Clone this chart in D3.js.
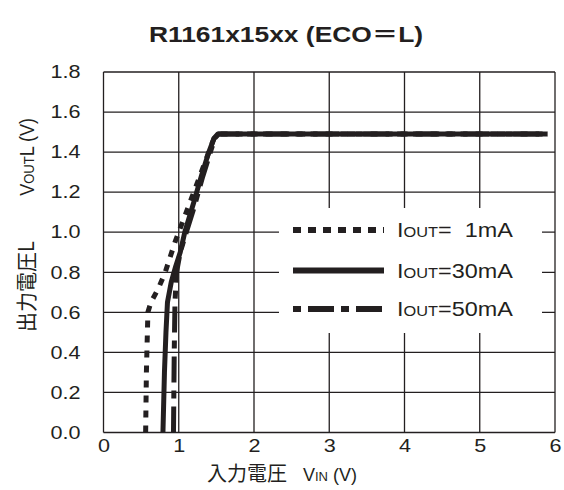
<!DOCTYPE html>
<html>
<head>
<meta charset="utf-8">
<script src="https://cdn.jsdelivr.net/npm/d3@7/dist/d3.min.js"></script>
<style>
  body { margin: 0; background: #fff; }
  svg { display: block; }
  text { font-family: "Liberation Sans", Arial, sans-serif; fill: #231f20; }
  .cjk { font-family: "Noto Sans CJK JP", sans-serif; }
</style>
</head>
<body>
<svg id="chart" width="564" height="490"></svg>
<script>
// axis ticks
var xTicks = [0, 1, 2, 3, 4, 5, 6];
var yTicks = [0, 0.2, 0.4, 0.6, 0.8, 1.0, 1.2, 1.4, 1.6, 1.8];

// IOUT = 1mA
var vin1 = [0.56, 0.57, 0.59, 0.63, 0.73, 0.82, 0.95, 1.03, 1.17, 1.31, 1.41, 1.47, 1.52, 5.9];
var vout1 = [0.0, 0.3, 0.6, 0.65, 0.72, 0.8, 0.95, 1.03, 1.17, 1.31, 1.41, 1.47, 1.49, 1.49];

// IOUT = 30mA
var vin30 = [0.79, 0.81, 0.83, 0.85, 0.9, 0.96, 1.02, 1.08, 1.2, 1.3, 1.4, 1.47, 1.52, 5.9];
var vout30 = [0.0, 0.3, 0.5, 0.65, 0.75, 0.83, 0.9, 1.0, 1.15, 1.28, 1.4, 1.47, 1.49, 1.49];

// IOUT = 50mA
var vin50 = [0.93, 0.94, 0.95, 0.97, 1.02, 1.1, 1.2, 1.32, 1.42, 1.48, 1.53, 5.9];
var vout50 = [0.0, 0.4, 0.65, 0.8, 0.9, 1.0, 1.12, 1.28, 1.4, 1.47, 1.49, 1.49];

var seriesNames = ['1mA', '30mA', '50mA'];

var svg = d3.select('#chart');
var plotLeft = 103.5, plotRight = 555, plotTop = 72, plotBottom = 432.5;
var stretch = 1.2; // the reference numbers are drawn wide

var x = d3.scaleLinear().domain([0, 6]).range([plotLeft, plotRight]);
var y = d3.scaleLinear().domain([0, 1.8]).range([plotBottom, plotTop]);

// title
var title = svg.append('text')
    .attr('transform', 'translate(286,42) scale(' + stretch + ',1)')
    .attr('text-anchor', 'middle')
    .style('font-size', '22px')
    .style('font-weight', 'bold');
title.append('tspan').text('R1161x15xx (ECO');
title.append('tspan').attr('class', 'cjk').text('\uFF1D');
title.append('tspan').text('L)');

// grid
var grid = svg.append('g').attr('stroke', '#231f20').attr('stroke-width', 1.3);
grid.selectAll('line.gx')
    .data(xTicks)
    .enter()
    .append('line')
    .attr('x1', function(d){ return x(d); })
    .attr('x2', function(d){ return x(d); })
    .attr('y1', plotTop)
    .attr('y2', plotBottom);
grid.selectAll('line.gy')
    .data(yTicks)
    .enter()
    .append('line')
    .attr('x1', plotLeft)
    .attr('x2', plotRight)
    .attr('y1', function(d){ return y(d); })
    .attr('y2', function(d){ return y(d); });

// tick labels
var xAxis = svg.append('g')
    .attr('transform', 'translate(0,' + (plotBottom + 7) + ')')
    .call(d3.axisBottom(x).tickValues(xTicks).tickSize(0).tickPadding(0).tickFormat(d3.format('d')));
var yAxis = svg.append('g')
    .attr('transform', 'translate(' + (plotLeft - 23) + ',0)')
    .call(d3.axisLeft(y).tickValues(yTicks).tickSize(0).tickPadding(0).tickFormat(d3.format('.1f')));
[xAxis, yAxis].forEach(function(a){
    a.select('.domain').remove();
    a.selectAll('text')
        .attr('transform', 'scale(' + stretch + ',1)')
        .style('font-size', '18px')
        .style('font-family', '"Liberation Sans", Arial, sans-serif')
        .attr('fill', '#231f20');
});

// legend background (hides grid)
svg.append('rect')
    .attr('x', 279)
    .attr('y', 208)
    .attr('width', 263)
    .attr('height', 125)
    .attr('fill', '#fff');

// curves
var line = d3.line()
    .x(function(d){ return x(d[0]); })
    .y(function(d){ return y(d[1]); });

var styles = [
    { dash: '7,8', width: 5 },
    { dash: null, width: 5 },
    { dash: '26,8,8,8', width: 5 }
];
var series = [d3.zip(vin1, vout1), d3.zip(vin30, vout30), d3.zip(vin50, vout50)];

svg.selectAll('path.curve')
    .data(series)
    .enter()
    .append('path')
    .attr('class', 'curve')
    .attr('d', line)
    .attr('fill', 'none')
    .attr('stroke', '#231f20')
    .attr('stroke-width', function(d, i){ return styles[i].width; })
    .attr('stroke-dasharray', function(d, i){ return styles[i].dash; })
    .attr('stroke-linejoin', 'round');

// legend
var legendY = [230, 270.5, 309];
var lg = svg.selectAll('g.legend')
    .data(seriesNames)
    .enter()
    .append('g')
    .attr('transform', function(d, i){ return 'translate(0,' + legendY[i] + ')'; });
lg.append('line')
    .attr('x1', 293)
    .attr('x2', 384)
    .attr('stroke', '#231f20')
    .attr('stroke-width', 6)
    .attr('stroke-dasharray', function(d, i){ return i == 0 ? '8,7' : (i == 2 ? '8,7,26,7' : null); });
var lt = lg.append('text')
    .attr('transform', 'translate(397,7) scale(1.17,1)')
    .style('font-size', '20px');
lt.append('tspan').text('I');
lt.append('tspan').style('font-size', '14px').text('OUT');
lt.append('tspan').attr('xml:space', 'preserve').text(function(d){ return d == '1mA' ? '=\u00A0 1mA' : '=' + d; });

// x axis title, in two pieces
svg.append('text')
    .attr('class', 'cjk')
    .attr('x', 207)
    .attr('y', 481)
    .style('font-size', '20px')
    .text('入力電圧');
var xt = svg.append('text')
    .attr('x', 357)
    .attr('y', 481)
    .attr('text-anchor', 'end')
    .style('font-size', '18px');
xt.append('tspan').text('V');
xt.append('tspan').style('font-size', '13px').text('IN');
xt.append('tspan').text(' (V)');

// y axis title (rotated), in two pieces
svg.append('text')
    .attr('class', 'cjk')
    .attr('transform', 'translate(34,332) scale(1.05,1) rotate(-90)')
    .style('font-size', '20px')
    .text('出力電圧L');
var yt = svg.append('text')
    .attr('transform', 'translate(34,118) scale(1.12,1) rotate(-90)')
    .attr('text-anchor', 'end')
    .style('font-size', '18px');
yt.append('tspan').text('V');
yt.append('tspan').style('font-size', '13px').text('OUT');
yt.append('tspan').text('L (V)');
</script>
</body>
</html>
